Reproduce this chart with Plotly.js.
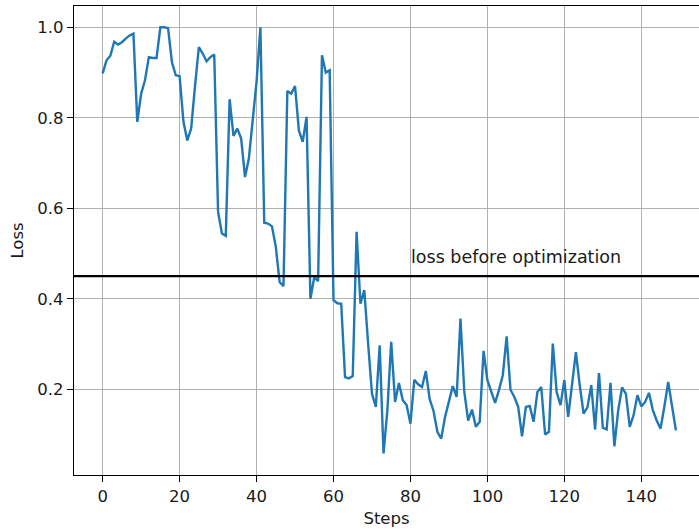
<!DOCTYPE html>
<html>
<head>
<meta charset="utf-8">
<script src="https://cdn.plot.ly/plotly-3.0.1.min.js"></script>
<style>html,body{margin:0;padding:0;background:#fff;}#chart{width:699px;height:529px;}</style>
</head>
<body>
<div id="chart"></div>
<script>
const steps = [0,1,2,3,4,5,6,7,8,9,10,11,12,13,14,15,16,17,18,19,20,21,22,23,24,25,26,27,28,29,30,31,32,33,34,35,36,37,38,39,40,41,42,43,44,45,46,47,48,49,50,51,52,53,54,55,56,57,58,59,60,61,62,63,64,65,66,67,68,69,70,71,72,73,74,75,76,77,78,79,80,81,82,83,84,85,86,87,88,89,90,91,92,93,94,95,96,97,98,99,100,101,102,103,104,105,106,107,108,109,110,111,112,113,114,115,116,117,118,119,120,121,122,123,124,125,126,127,128,129,130,131,132,133,134,135,136,137,138,139,140,141,142,143,144,145,146,147,148,149];
const loss = [0.898,0.927,0.937,0.968,0.962,0.967,0.975,0.982,0.986,0.791,
0.853,0.883,0.934,0.932,0.932,1.0,1.0,0.998,0.923,0.894,
0.892,0.791,0.750,0.776,0.870,0.956,0.942,0.925,0.934,0.940,
0.592,0.544,0.539,0.841,0.760,0.776,0.754,0.669,0.710,0.790,
0.880,1.0,0.568,0.566,0.560,0.515,0.437,0.428,0.859,0.853,
0.870,0.772,0.747,0.802,0.400,0.448,0.439,0.938,0.900,0.905,
0.397,0.390,0.389,0.227,0.224,0.229,0.548,0.389,0.419,0.301,
0.190,0.161,0.297,0.058,0.154,0.305,0.172,0.214,0.176,0.165,
0.124,0.221,0.211,0.205,0.240,0.178,0.152,0.106,0.091,0.139,
0.172,0.207,0.183,0.356,0.194,0.131,0.155,0.117,0.128,0.285,
0.220,0.194,0.170,0.198,0.231,0.317,0.199,0.183,0.161,0.096,
0.161,0.163,0.128,0.194,0.205,0.100,0.106,0.301,0.194,0.165,
0.220,0.139,0.205,0.282,0.209,0.146,0.160,0.209,0.111,0.236,
0.115,0.111,0.214,0.074,0.154,0.204,0.190,0.117,0.143,0.187,
0.162,0.172,0.192,0.154,0.131,0.113,0.162,0.216,0.162,0.109];
const baselineLoss = 0.45;
const baselineLabel = "loss before optimization";
const labelStep = 80;
const labelLoss = 0.493;
const xTicks = [0,20,40,60,80,100,120,140];
const yTicks = [0.2,0.4,0.6,0.8,1.0];
const yTickText = ["0.2","0.4","0.6","0.8","1.0"];

const font = {family: "DejaVu Sans", size: 16.5, color: "#1a1a1a"};
const labelFont = {family: "DejaVu Sans", size: 17.5, color: "#1a1a1a"};

const data = [{
  x: steps, y: loss, type: "scatter", mode: "lines",
  line: {color: "#1f77b4", width: 2.4}, hoverinfo: "skip"
}];

const layout = {
  width: 699, height: 529,
  margin: {l: 74, r: 0, t: 6, b: 54, pad: 0},
  paper_bgcolor: "#fff", plot_bgcolor: "#fff",
  font: font, showlegend: false,
  xaxis: {
    range: [-7.45, 155.0], tickvals: xTicks, ticktext: xTicks.map(String),
    showgrid: true, gridcolor: "#b0b0b0", gridwidth: 1.3,
    zeroline: false, showline: true, linecolor: "#000", linewidth: 1.3, mirror: true,
    ticks: "outside", ticklen: 6, tickwidth: 1.3, tickcolor: "#000",
    tickfont: font,
    title: {text: "Steps", font: font, standoff: 7}
  },
  yaxis: {
    range: [0.0105, 1.047], tickvals: yTicks, ticktext: yTickText,
    showgrid: true, gridcolor: "#b0b0b0", gridwidth: 1.3,
    zeroline: false, showline: true, linecolor: "#000", linewidth: 1.3, mirror: false,
    ticks: "outside", ticklen: 6, tickwidth: 1.3, tickcolor: "#000",
    tickfont: font,
    title: {text: "Loss", font: font, standoff: 9}
  },
  shapes: [{
    type: "line", xref: "paper", yref: "y", x0: 0, x1: 1,
    y0: baselineLoss, y1: baselineLoss,
    line: {color: "#000", width: 2.4}
  }],
  annotations: [{
    x: labelStep, y: labelLoss, xref: "x", yref: "y",
    text: baselineLabel, showarrow: false, xanchor: "left", yanchor: "middle",
    font: labelFont, borderpad: 0
  }]
};

Plotly.newPlot("chart", data, layout, {staticPlot: true, displayModeBar: false});
</script>
</body>
</html>
